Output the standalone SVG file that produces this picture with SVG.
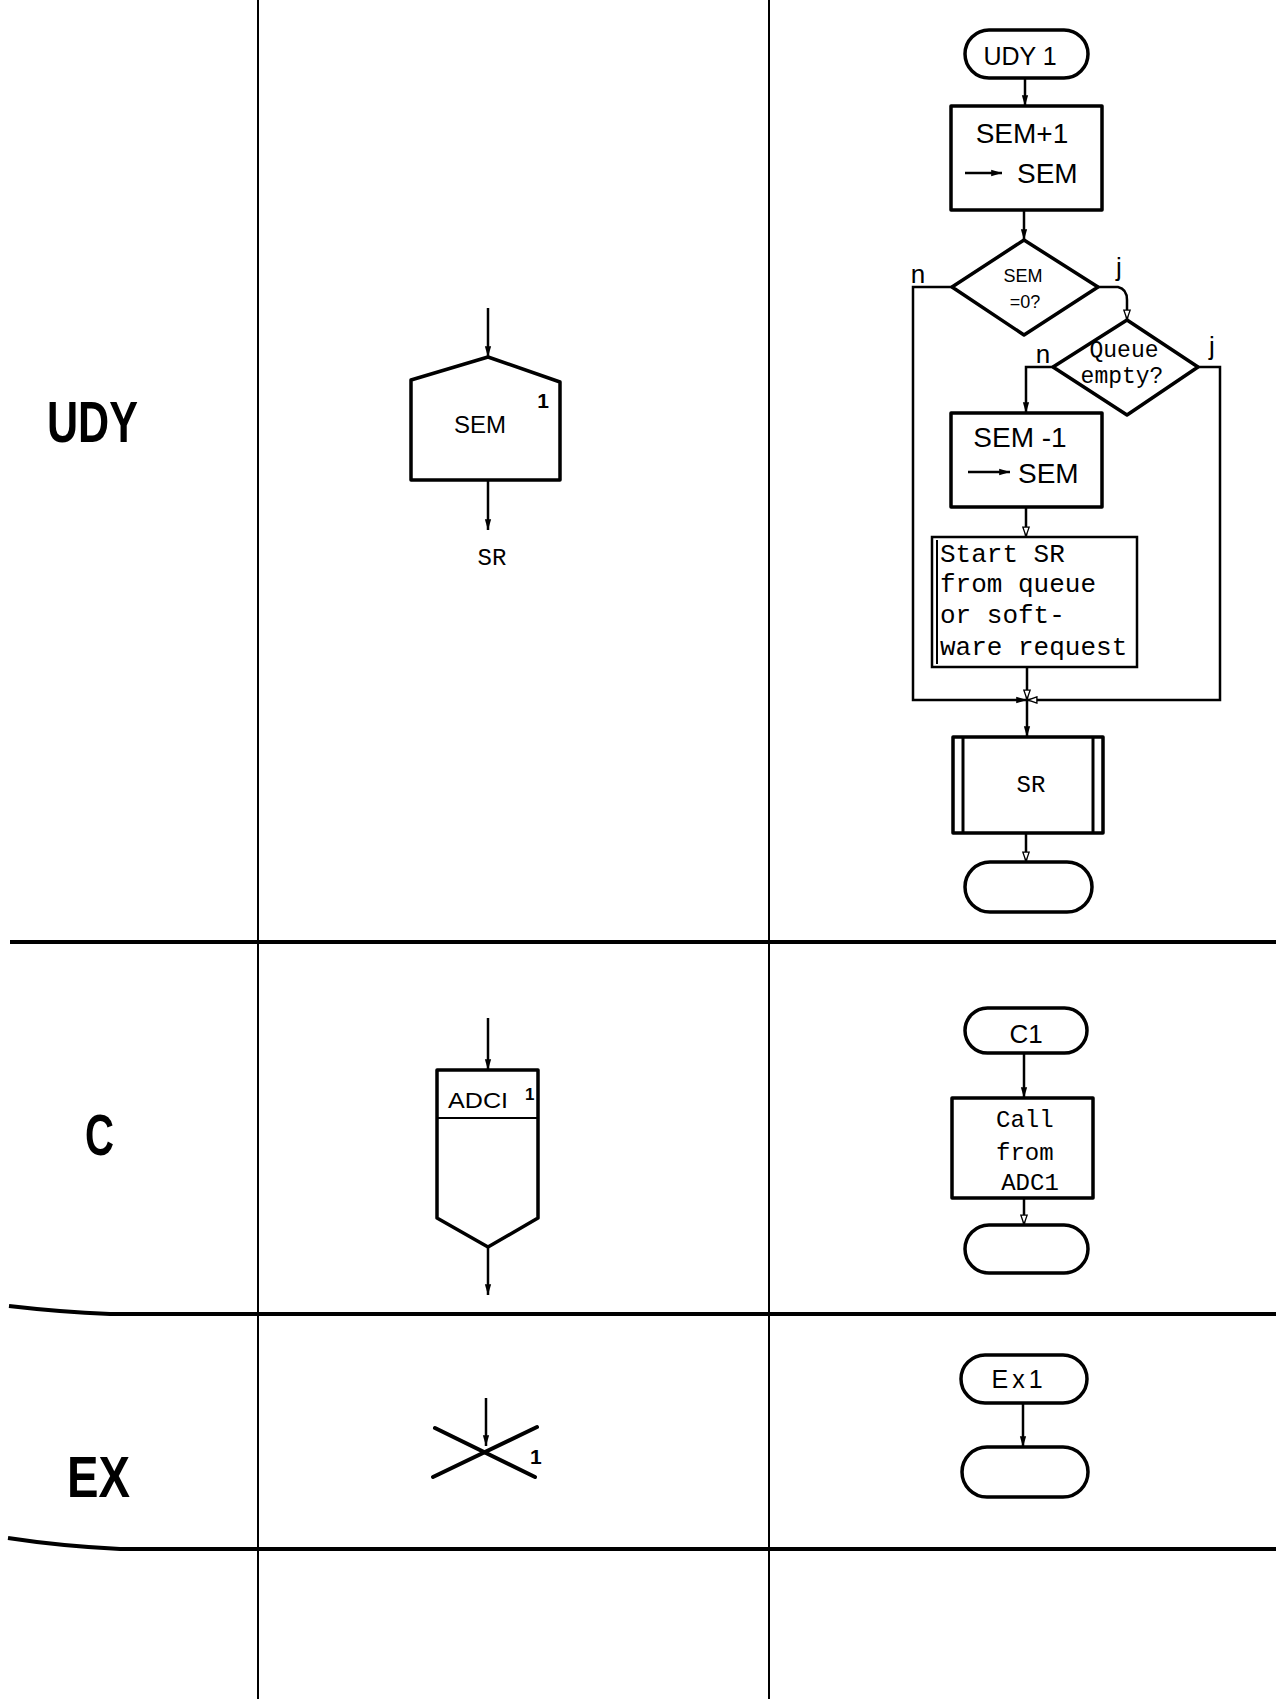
<svg xmlns="http://www.w3.org/2000/svg" width="1276" height="1699" viewBox="0 0 1276 1699">
<style>
.shape{fill:#fff;stroke:#000;stroke-width:3.5;stroke-linejoin:round}
.thin{fill:none;stroke:#000;stroke-width:2}
.grid{fill:none;stroke:#000;stroke-width:2}
.band{fill:none;stroke:#000;stroke-width:4}
.con{fill:none;stroke:#000;stroke-width:2.5}
.sans{font-family:"Liberation Sans","DejaVu Sans",sans-serif;fill:#000}
.mono{font-family:"Liberation Mono","DejaVu Sans Mono",monospace;fill:#000}
.big{font-family:"Liberation Sans","DejaVu Sans",sans-serif;font-size:58px;font-weight:bold;fill:#000}
</style>
<defs>
<marker id="af" viewBox="0 0 12 10" refX="12" refY="5" markerWidth="12" markerHeight="9" markerUnits="userSpaceOnUse" orient="auto">
<path d="M0,1.5 L12,5 L0,8.5 z" fill="#000"/>
</marker>
<marker id="ao" viewBox="0 0 12 10" refX="12" refY="5" markerWidth="12" markerHeight="9" markerUnits="userSpaceOnUse" orient="auto">
<path d="M1,1.5 L11,5 L1,8.5 z" fill="#fff" stroke="#000" stroke-width="1.5"/>
</marker>
</defs>

<g id="grid">
<line class="grid" x1="258" y1="0" x2="258" y2="1699"/>
<line class="grid" x1="769" y1="0" x2="769" y2="1699"/>
<path class="band" d="M10,942 H1276"/>
<path class="band" d="M9,1306 Q60,1312 110,1314 H1276"/>
<path class="band" d="M8,1538 Q60,1546 120,1549 H1276"/>
</g>

<g id="row-labels">
<text class="big" x="47" y="442" textLength="91" lengthAdjust="spacingAndGlyphs">UDY</text>
<text class="big" x="85" y="1155" textLength="29" lengthAdjust="spacingAndGlyphs">C</text>
<text class="big" x="67" y="1497" textLength="63" lengthAdjust="spacingAndGlyphs">EX</text>
</g>

<g id="left-sem">
<path class="shape" d="M488,357 L560,382 V480 H411 V380 Z"/>
<text class="sans" x="480" y="433" font-size="24" text-anchor="middle">SEM</text>
<text class="sans" x="543" y="408" font-size="21" font-weight="bold" text-anchor="middle">1</text>
</g>
<text id="left-sr" class="mono" x="492" y="565" font-size="24" text-anchor="middle">SR</text>

<g id="left-adci">
<path class="shape" d="M437,1070 H538 V1218 L488,1247 L437,1218 Z"/>
<line class="thin" x1="437" y1="1118" x2="538" y2="1118"/>
<text class="sans" x="448" y="1108" font-size="22" textLength="60" lengthAdjust="spacingAndGlyphs">ADCI</text>
<text class="sans" x="525" y="1100" font-size="17" font-weight="bold">1</text>
</g>

<g id="left-ex">
<line x1="435" y1="1428" x2="535" y2="1477" stroke="#000" stroke-width="4" stroke-linecap="round"/>
<line x1="433" y1="1477" x2="537" y2="1427" stroke="#000" stroke-width="4" stroke-linecap="round"/>
<text class="sans" x="530" y="1464" font-size="21" font-weight="bold">1</text>
</g>

<g id="udy1">
<rect class="shape" x="965" y="30" width="123" height="48" rx="24"/>
<text class="sans" x="1020" y="65" font-size="25" text-anchor="middle">UDY 1</text>
</g>
<g id="sem-plus">
<rect class="shape" x="951" y="106" width="151" height="104"/>
<text class="sans" x="1022" y="143" font-size="28" text-anchor="middle">SEM+1</text>
<line x1="965" y1="173" x2="1002" y2="173" stroke="#000" stroke-width="2.5" marker-end="url(#af)"/>
<text class="sans" x="1017" y="183" font-size="28">SEM</text>
</g>
<g id="sem-zero">
<path class="shape" d="M1024,240 L1098,287 L1024,335 L952,287 Z"/>
<text class="sans" x="1023" y="282" font-size="18" text-anchor="middle">SEM</text>
<text class="sans" x="1025" y="308" font-size="18" text-anchor="middle">=0?</text>
<text class="sans" x="918" y="283" font-size="26" text-anchor="middle">n</text>
<text class="sans" x="1119" y="276" font-size="26" text-anchor="middle">j</text>
</g>
<g id="queue-empty">
<path class="shape" d="M1127,320 L1198,367 L1127,415 L1053,367 Z"/>
<text class="mono" x="1124" y="357" font-size="23" text-anchor="middle">Queue</text>
<text class="mono" x="1122" y="383" font-size="23" text-anchor="middle">empty?</text>
<text class="sans" x="1043" y="363" font-size="26" text-anchor="middle">n</text>
<text class="sans" x="1212" y="355" font-size="26" text-anchor="middle">j</text>
</g>
<g id="sem-minus">
<rect class="shape" x="951" y="413" width="151" height="94"/>
<text class="sans" x="1020" y="447" font-size="28" text-anchor="middle">SEM -1</text>
<line x1="968" y1="472" x2="1010" y2="472" stroke="#000" stroke-width="2.5" marker-end="url(#af)"/>
<text class="sans" x="1018" y="483" font-size="28">SEM</text>
</g>
<g id="start-sr">
<rect x="932" y="537" width="205" height="130" fill="#fff" stroke="#000" stroke-width="2.5"/>
<line class="thin" x1="937" y1="540" x2="937" y2="664"/>
<text class="mono" font-size="26">
<tspan x="940" y="562">Start SR</tspan>
<tspan x="940" y="592">from queue</tspan>
<tspan x="940" y="623">or soft-</tspan>
<tspan x="940" y="655">ware request</tspan>
</text>
</g>
<g id="sr-sub">
<rect class="shape" x="953" y="737" width="150" height="96"/>
<line x1="963" y1="737" x2="963" y2="833" stroke="#000" stroke-width="3"/>
<line x1="1093" y1="737" x2="1093" y2="833" stroke="#000" stroke-width="3"/>
<text class="mono" x="1031" y="792" font-size="24" text-anchor="middle">SR</text>
</g>
<g id="udy-end">
<rect class="shape" x="965" y="862" width="127" height="50" rx="25"/>
</g>

<g id="c1">
<rect class="shape" x="965" y="1008" width="122" height="45" rx="22.5"/>
<text class="sans" x="1026" y="1043" font-size="26" text-anchor="middle">C1</text>
</g>
<g id="call-adc1">
<rect class="shape" x="952" y="1098" width="141" height="100"/>
<text class="mono" font-size="24" text-anchor="middle">
<tspan x="1032" y="1127">Call</tspan>
<tspan x="1032" y="1160">from</tspan>
<tspan x="1030" y="1190">ADC1</tspan>
</text>
</g>
<g id="c-end">
<rect class="shape" x="965" y="1225" width="123" height="48" rx="24"/>
</g>

<g id="ex1">
<rect class="shape" x="961" y="1355" width="126" height="48" rx="24"/>
<text class="sans" x="1019" y="1388" font-size="25" text-anchor="middle" letter-spacing="4">Ex1</text>
</g>
<g id="ex-end">
<rect class="shape" x="962" y="1447" width="126" height="50" rx="25"/>
</g>

<g id="connectors">
<path class="con" d="M488,308 V357" marker-end="url(#af)"/>
<path class="con" d="M488,480 V530" marker-end="url(#af)"/>
<path class="con" d="M488,1018 V1070" marker-end="url(#af)"/>
<path class="con" d="M488,1247 V1295" marker-end="url(#af)"/>
<path class="con" d="M486,1398 V1446" marker-end="url(#af)"/>
<path class="con" d="M1025,78 V106" marker-end="url(#af)"/>
<path class="con" d="M1024,210 V240" marker-end="url(#af)"/>
<path class="con" d="M952,287 H913 V700 H1027" stroke-width="3" marker-end="url(#af)"/>
<path class="con" d="M1098,287 H1118 Q1127,289 1127,300 V320" marker-end="url(#ao)"/>
<path class="con" d="M1053,367 H1026 V413" marker-end="url(#af)"/>
<path class="con" d="M1198,367 H1220 V700 H1027" stroke-width="3" marker-end="url(#ao)"/>
<path class="con" d="M1026,507 V537" marker-end="url(#ao)"/>
<path class="con" d="M1027,667 V700" marker-end="url(#ao)"/>
<path class="con" d="M1027,700 V737" marker-end="url(#af)"/>
<path class="con" d="M1026,833 V862" marker-end="url(#ao)"/>
<path class="con" d="M1024,1053 V1098" marker-end="url(#af)"/>
<path class="con" d="M1024,1198 V1225" marker-end="url(#ao)"/>
<path class="con" d="M1023,1403 V1447" marker-end="url(#af)"/>
</g>
</svg>
